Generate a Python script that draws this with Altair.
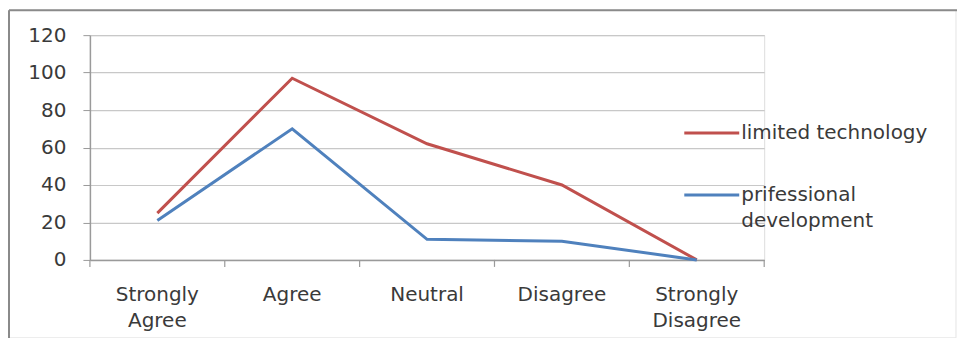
import altair as alt
import pandas as pd

categories = ["Strongly Agree", "Agree", "Neutral", "Disagree", "Strongly Disagree"]
series_names = ["limited technology", "prifessional development"]
limited_technology = [25, 97, 62, 40, 0]
professional_development = [21, 70, 11, 10, 0]
series_colors = ["#C0504D", "#4F81BD"]
y_ticks = [0, 20, 40, 60, 80, 100, 120]

rows = []
for cat, v in zip(categories, limited_technology):
    rows.append({"category": cat, "series": series_names[0], "value": v})
for cat, v in zip(categories, professional_development):
    rows.append({"category": cat, "series": series_names[1], "value": v})
df = pd.DataFrame(rows)

FONT = "DejaVu Sans"
FS = 20
TXT = "#3a3a3a"
W, H = 675, 225

x_enc = alt.X("category:N", sort=categories, title=None,
              scale=alt.Scale(paddingInner=0, paddingOuter=0),
              axis=alt.Axis(labelAngle=0, labelExpr="split(datum.label, ' ')",
                            labelFont=FONT, labelFontSize=FS, labelColor=TXT,
                            labelPadding=25, labelLineHeight=26,
                            ticks=False, domainColor="#9a9a9a", domainWidth=1.5,
                            grid=False))
y_enc = alt.Y("value:Q", title=None,
              scale=alt.Scale(domain=[0, 120], nice=False),
              axis=alt.Axis(values=y_ticks, labelFont=FONT, labelFontSize=FS,
                            labelColor=TXT, labelPadding=17,
                            tickSize=7, tickColor="#9a9a9a",
                            domainColor="#9a9a9a", domainWidth=1.5,
                            gridColor="#c8c8c8", gridWidth=1.2))

lines = alt.Chart(df).mark_line(strokeWidth=3).encode(
    x=x_enc, y=y_enc,
    color=alt.Color("series:N", sort=series_names,
                    scale=alt.Scale(domain=series_names, range=series_colors),
                    legend=None),
)

# x-axis category boundary ticks
tick_df = pd.DataFrame({"category": categories})
xticks = alt.Chart(tick_df).mark_rule(color="#9a9a9a", strokeWidth=1.2).encode(
    x=alt.X("category:N", sort=categories, bandPosition=0),
    y=alt.value(H), y2=alt.value(H + 7),
)
last_tick = alt.Chart(tick_df.head(1)).mark_rule(color="#9a9a9a", strokeWidth=1.2).encode(
    x=alt.value(W), y=alt.value(H), y2=alt.value(H + 7),
)

# manual legend
leg_df = pd.DataFrame({
    "series": series_names,
    "line1": ["limited technology", "prifessional"],
    "line2": ["", "development"],
    "ly": [98, 160],
})
leg_lines = alt.Chart(leg_df).mark_rule(strokeWidth=3).encode(
    x=alt.value(595), x2=alt.value(650),
    y=alt.Y("ly:Q", scale=None),
    color=alt.Color("series:N", scale=alt.Scale(domain=series_names, range=series_colors), legend=None),
)
leg_text1 = alt.Chart(leg_df).mark_text(align="left", baseline="middle", font=FONT,
                                        fontSize=FS, color=TXT).encode(
    x=alt.value(652), y=alt.Y("ly:Q", scale=None), text="line1:N")
leg_df2 = leg_df.assign(ly2=leg_df["ly"] + 26)
leg_text2 = alt.Chart(leg_df2).mark_text(align="left", baseline="middle", font=FONT,
                                         fontSize=FS, color=TXT).encode(
    x=alt.value(652), y=alt.Y("ly2:Q", scale=None), text="line2:N")

# outer frame
frame_df = pd.DataFrame({"k": [0]})
frame = alt.Chart(frame_df).mark_rect(fill="transparent", stroke="#e4e4e4", strokeWidth=1).encode(
    x=alt.value(-81), x2=alt.value(867), y=alt.value(-25), y2=alt.value(303))
frame_top = alt.Chart(frame_df).mark_rule(color="#8a8a8a", strokeWidth=2).encode(
    x=alt.value(-81), x2=alt.value(875), y=alt.value(-25))
frame_left = alt.Chart(frame_df).mark_rule(color="#8a8a8a", strokeWidth=2).encode(
    x=alt.value(-81), y=alt.value(-25), y2=alt.value(310))

chart = alt.layer(frame, frame_top, frame_left, lines, xticks, last_tick,
                  leg_lines, leg_text1, leg_text2).properties(
    width=W, height=H,
    autosize=alt.AutoSizeParams(type="none"),
    padding={"left": 82, "top": 27, "right": 193, "bottom": 78},
).configure_view(stroke=None).configure(background="white")

chart.save("out.html", embed_options={"renderer": "svg", "actions": False})
